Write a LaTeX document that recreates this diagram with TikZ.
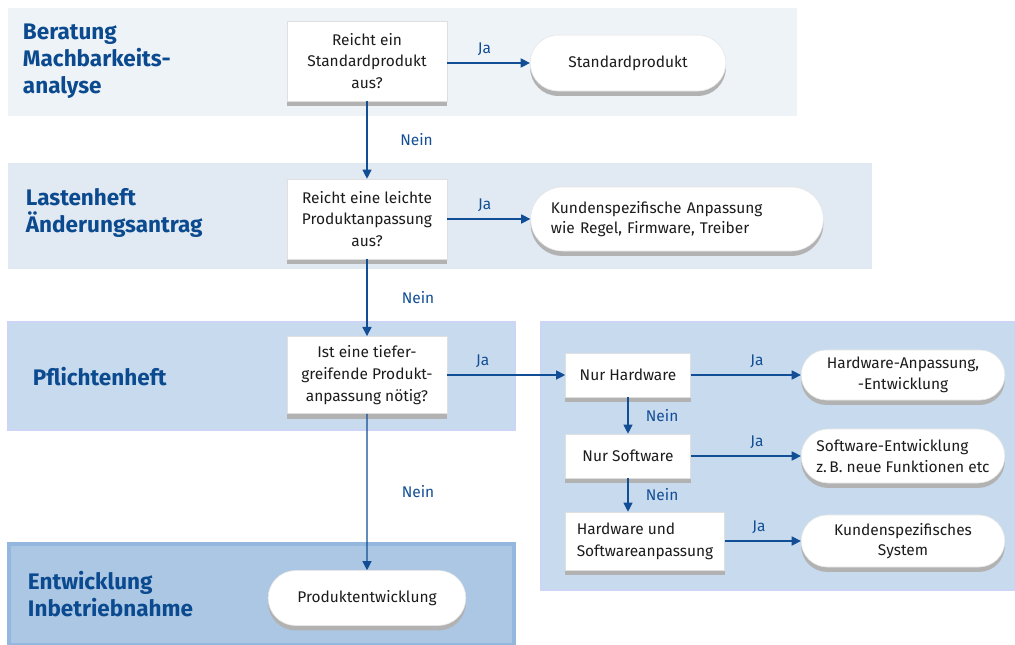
\documentclass[tikz,border=0pt]{standalone}
\usepackage{fontspec}
\setmainfont{Fira Sans}
\usetikzlibrary{shapes.misc,shadows,arrows.meta}
\definecolor{dunkelblau}{HTML}{0B4A8F}
\definecolor{pfeilblau}{HTML}{114E95}
\definecolor{bandA}{HTML}{EEF3F7}
\definecolor{bandB}{HTML}{E1E9F2}
\definecolor{bandC}{HTML}{C8DAED}
\definecolor{bandD}{HTML}{ABC7E4}
\definecolor{randD}{HTML}{94B7DD}
\definecolor{textgrau}{HTML}{1C1C1C}

\begin{document}
\begin{tikzpicture}[x=0.025cm, y=-0.025cm, >={Triangle[length=6.5pt,width=6.5pt]},
  every node/.style={font=\fontsize{11}{15.5}\selectfont, text=textgrau},
  schatten/.style={drop shadow={shadow xshift=0pt, shadow yshift=-3.5pt, fill=gray!60, opacity=1}},
  frage/.style={rectangle, draw=gray!25, fill=white, schatten, align=center, inner sep=2pt},
  ergebnis/.style={rounded rectangle, draw=gray!20, fill=white, schatten, align=center,
    font=\fontsize{11}{14.5}\selectfont},
  titel/.style={anchor=west, align=left, text=dunkelblau, font=\bfseries\fontsize{16}{19}\selectfont},
  pfeil/.style={->, draw=pfeilblau, line width=0.8pt},
  ja/.style={text=pfeilblau, above, inner sep=5pt},
  nein/.style={text=pfeilblau, right}]

\useasboundingbox (0,0) rectangle (1015,645);

% Baender
\fill[bandA] (8,8) rectangle (797,116);
\fill[bandB] (8,163) rectangle (872,269);
\filldraw[fill=bandC, draw=bandC!85!blue!60, line width=1pt] (8,322) rectangle (515,430);
\filldraw[fill=bandC, draw=bandC!85!blue!60, line width=1pt] (541,322) rectangle (1015,590);
\filldraw[fill=bandD, draw=randD, line width=2.5pt] (9,544) rectangle (514,645);

% Titel
\node[titel] (t-1) at (18,61) {Beratung\\Machbarkeits-\\analyse};
\node[titel] (t-2) at (21,213) {Lastenheft\\Änderungsantrag};
\node[titel] (t-3) at (28,377) {Pflichtenheft};
\node[titel] (t-4) at (23,594) {Entwicklung\\Inbetriebnahme};

% Fragen
\node[frage, minimum width=4cm, minimum height=2cm] (frage-1) at (367,61) {Reicht ein\\Standardprodukt\\aus?};
\node[frage, minimum width=4cm, minimum height=2cm] (frage-2) at (367,219) {Reicht eine leichte\\Produktanpassung\\aus?};
\node[frage, minimum width=4cm, minimum height=1.93cm] (frage-3) at (367,375) {Ist eine tiefer-\\greifende Produkt-\\anpassung nötig?};

\node[frage, minimum width=3.125cm, minimum height=1.1cm] (hw) at (628,375) {Nur Hardware};
\node[frage, minimum width=3.125cm, minimum height=1.1cm] (sw) at (628,456) {Nur Software};
\node[frage, minimum width=3.975cm, minimum height=1.45cm, align=left] (hwsw) at (645,541) {Hardware und\\Softwareanpassung};

% Ergebnisse
\node[ergebnis, minimum width=5.125cm, minimum height=1.4cm] (standard) at (628,63) {Standardprodukt};
\node[ergebnis, minimum width=7.55cm, minimum height=1.6cm, text width=6.3cm, align=left] (kunde) at (677,219) {Kundenspezifische Anpassung\\wie Regel, Firmware, Treiber};
\node[ergebnis, minimum width=5.325cm, minimum height=1.25cm] (hw-erg) at (903,375) {Hardware-Anpassung,\\-Entwicklung};
\node[ergebnis, minimum width=5.325cm, minimum height=1.35cm, align=left] (sw-erg) at (903,456) {Software-Entwicklung\\z.\,B. neue Funktionen etc};
\node[ergebnis, minimum width=5.325cm, minimum height=1.3cm] (hwsw-erg) at (903,541) {Kundenspezifisches\\System};
\node[ergebnis, minimum width=5.175cm, minimum height=1.375cm] (produkt) at (367,598) {Produktentwicklung};

% Ja-Pfeile
\draw[pfeil] (frage-1.east |- standard) -- (standard) node[ja, pos=0.45] {Ja};
\draw[pfeil] (frage-2) -- (kunde) node[ja, pos=0.45] {Ja};
\draw[pfeil] (frage-3) -- (hw) node[ja, pos=0.3] {Ja};
\draw[pfeil] (hw) -- (hw-erg) node[ja, pos=0.6] {Ja};
\draw[pfeil] (sw) -- (sw-erg) node[ja, pos=0.6] {Ja};
\draw[pfeil] (hwsw) -- (hwsw-erg) node[ja, pos=0.45] {Ja};

% Nein-Pfeile
\draw[pfeil] (frage-1) -- (frage-2) node[nein, midway, xshift=20pt] {Nein};
\draw[pfeil] (frage-2) -- (frage-3) node[nein, midway, xshift=21pt] {Nein};
\draw[pfeil] (frage-3) -- (produkt) node[nein, midway, xshift=21pt] {Nein};
\draw[pfeil] (hw) -- (sw) node[nein, midway, xshift=9pt] {Nein};
\draw[pfeil] (sw) -- (sw |- hwsw.north) node[nein, midway, xshift=9pt] {Nein};

\end{tikzpicture}
\end{document}
